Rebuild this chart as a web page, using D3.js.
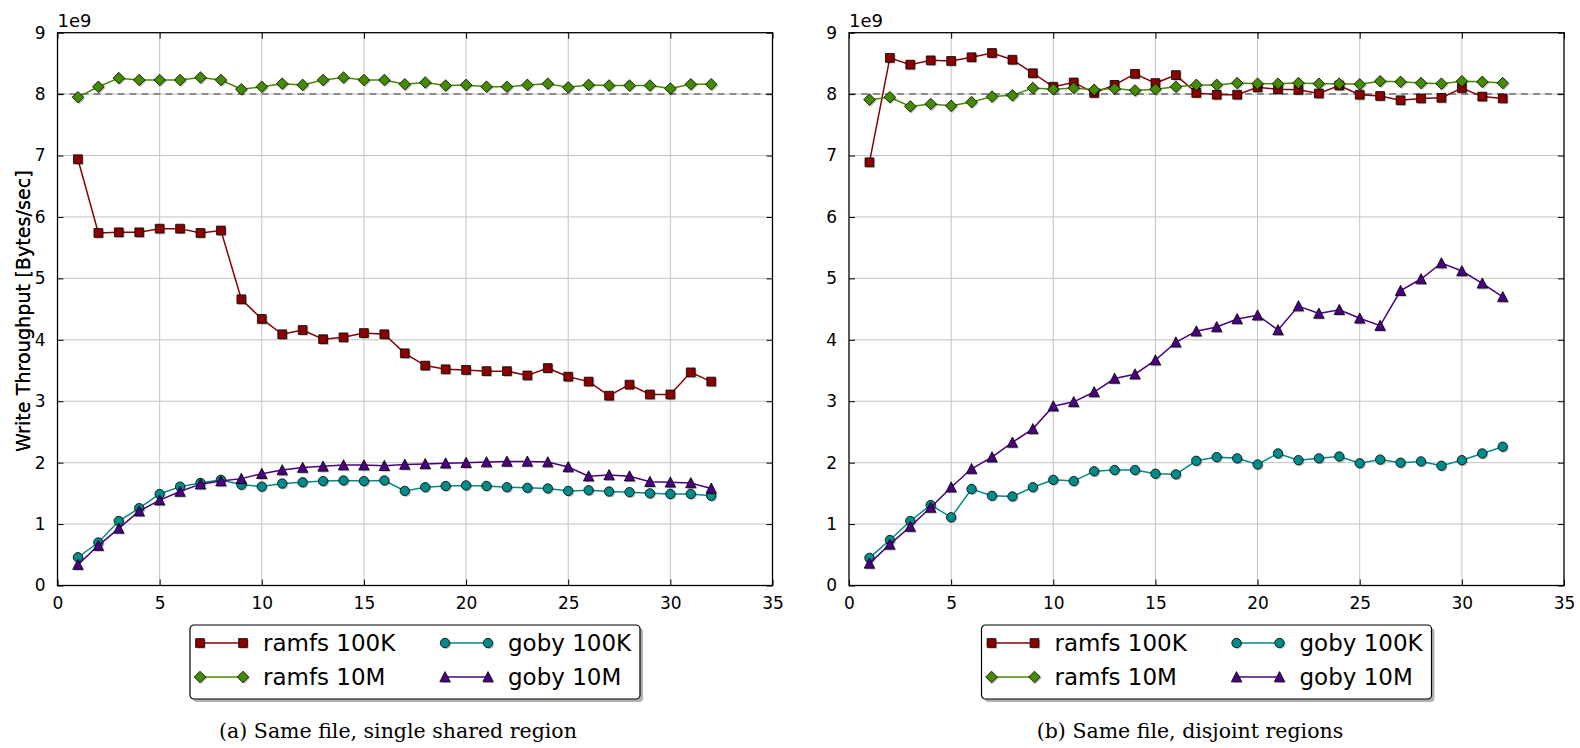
<!DOCTYPE html>
<html>
<head>
<meta charset="utf-8">
<script src="https://cdn.jsdelivr.net/npm/d3@7"></script>
<style>
  body { margin: 0; background: #fff; }
  text { font-family: "DejaVu Sans", sans-serif; fill: #000; }
  .caption { font-family: "DejaVu Serif", serif; }
</style>
</head>
<body>
<svg id="chart" width="1580" height="748"></svg>
<script>
// Thread counts on the x axis
const threads = [1, 2, 3, 4, 5, 6, 7, 8, 9, 10, 11, 12, 13, 14, 15, 16,
  17, 18, 19, 20, 21, 22, 23, 24, 25, 26, 27, 28, 29, 30, 31, 32];

const seriesNames = ["ramfs 100K", "ramfs 10M", "goby 100K", "goby 10M"];
const seriesColors = ["#8b0000", "#458b00", "#008b8b", "#4b0082"];
const seriesMarkers = ["square", "diamond", "circle", "triangle"];

// (a) same file, single shared region -- values in 1e9 bytes/sec
const sharedRamfs100K = [6.94, 5.74, 5.75, 5.75, 5.81, 5.81, 5.74, 5.78, 4.66, 4.34, 4.09, 4.16,
  4.01, 4.04, 4.11, 4.09, 3.78, 3.58, 3.52, 3.51, 3.49, 3.49, 3.42, 3.54, 3.40, 3.32, 3.09, 3.27,
  3.11, 3.11, 3.47, 3.32];
const sharedRamfs10M = [7.95, 8.12, 8.26, 8.23, 8.23, 8.23, 8.27, 8.23, 8.08, 8.12, 8.17, 8.15,
  8.23, 8.27, 8.23, 8.23, 8.16, 8.19, 8.14, 8.15, 8.12, 8.12, 8.15, 8.17, 8.11, 8.15, 8.14, 8.14,
  8.14, 8.09, 8.16, 8.16];
const sharedGoby100K = [0.46, 0.70, 1.05, 1.26, 1.49, 1.61, 1.67, 1.72, 1.64, 1.61, 1.66, 1.68,
  1.70, 1.71, 1.70, 1.71, 1.54, 1.60, 1.62, 1.63, 1.62, 1.60, 1.59, 1.58, 1.54, 1.55, 1.53, 1.52,
  1.50, 1.49, 1.49, 1.46];
const sharedGoby10M = [0.34, 0.65, 0.93, 1.21, 1.39, 1.53, 1.65, 1.70, 1.74, 1.82, 1.88, 1.92,
  1.94, 1.96, 1.96, 1.95, 1.97, 1.98, 1.99, 2.00, 2.01, 2.02, 2.02, 2.01, 1.93, 1.78, 1.80, 1.78,
  1.69, 1.68, 1.67, 1.58];

// (b) same file, disjoint regions
const disjointRamfs100K = [6.89, 8.59, 8.48, 8.55, 8.54, 8.60, 8.67, 8.56, 8.34, 8.12, 8.19, 8.02,
  8.15, 8.33, 8.18, 8.31, 8.02, 7.99, 7.99, 8.11, 8.08, 8.07, 8.01, 8.14, 7.99, 7.97, 7.90, 7.93,
  7.94, 8.10, 7.96, 7.93];
const disjointRamfs10M = [7.91, 7.95, 7.80, 7.84, 7.81, 7.87, 7.96, 7.98, 8.10, 8.08, 8.10, 8.07,
  8.09, 8.06, 8.08, 8.12, 8.15, 8.15, 8.18, 8.17, 8.17, 8.18, 8.17, 8.17, 8.16, 8.21, 8.20, 8.18,
  8.17, 8.21, 8.20, 8.18];
const disjointGoby100K = [0.45, 0.74, 1.05, 1.31, 1.11, 1.57, 1.46, 1.45, 1.60, 1.72, 1.70, 1.86,
  1.88, 1.88, 1.82, 1.81, 2.03, 2.09, 2.07, 1.97, 2.15, 2.04, 2.07, 2.10, 1.99, 2.05, 2.00, 2.02,
  1.95, 2.04, 2.15, 2.26];
const disjointGoby10M = [0.36, 0.67, 0.96, 1.27, 1.60, 1.90, 2.09, 2.33, 2.55, 2.92, 2.99, 3.15,
  3.37, 3.44, 3.67, 3.96, 4.14, 4.21, 4.34, 4.40, 4.16, 4.55, 4.43, 4.49, 4.35, 4.23, 4.80, 4.99,
  5.25, 5.12, 4.92, 4.70];

const xTicks = [0, 5, 10, 15, 20, 25, 30, 35];
const yTicks = [0, 1, 2, 3, 4, 5, 6, 7, 8, 9];
const referenceLevel = 8; // dashed line, 1e9 units

const panels = [
  { left: 57.5, caption: "(a) Same file, single shared region", captionX: 398,
    series: [sharedRamfs100K, sharedRamfs10M, sharedGoby100K, sharedGoby10M] },
  { left: 849, caption: "(b) Same file, disjoint regions", captionX: 1190,
    series: [disjointRamfs100K, disjointRamfs10M, disjointGoby100K, disjointGoby10M] },
];

const W = 715, H = 552.8, TOP = 32.7;
const svg = d3.select("#chart");

const x = d3.scaleLinear().domain([0, 35]).range([0, W]);
const y = d3.scaleLinear().domain([0, 9]).range([H, 0]);

function markerPath(kind) {
  switch (kind) {
    case "square": return "M-4.4,-4.4H4.4V4.4H-4.4Z";
    case "diamond": return "M0,-5.8L5.8,0L0,5.8L-5.8,0Z";
    case "circle": return d3.symbol(d3.symbolCircle, Math.PI * 4.7 * 4.7)();
    case "triangle": return "M0,-5.4L5.2,4.8L-5.2,4.8Z";
  }
}

function drawMarkers(g, pts, color, kind) {
  // soft shadow first, then the marker itself
  g.selectAll(null).data(pts).enter().append("path")
    .attr("d", markerPath(kind))
    .attr("transform", (d) => `translate(${d[0] + 1.3},${d[1] + 1.3})`)
    .attr("fill", "#000").attr("opacity", 0.25);
  g.selectAll(null).data(pts).enter().append("path")
    .attr("d", markerPath(kind))
    .attr("transform", (d) => `translate(${d[0]},${d[1]})`)
    .attr("fill", color).attr("stroke", "#000").attr("stroke-width", 0.8);
}

panels.forEach((p) => {
  const g = svg.append("g").attr("transform", `translate(${p.left},${TOP})`);

  // grid
  g.append("g").selectAll("line").data(xTicks.slice(1, -1)).enter().append("line")
    .attr("x1", (d) => x(d)).attr("x2", (d) => x(d)).attr("y1", 0).attr("y2", H)
    .attr("stroke", "#c4c4c4").attr("stroke-width", 1);
  g.append("g").selectAll("line").data(yTicks.slice(1, -1)).enter().append("line")
    .attr("y1", (d) => y(d)).attr("y2", (d) => y(d)).attr("x1", 0).attr("x2", W)
    .attr("stroke", "#c4c4c4").attr("stroke-width", 1);

  // reference line
  g.append("line")
    .attr("x1", 0).attr("x2", W).attr("y1", y(referenceLevel)).attr("y2", y(referenceLevel))
    .attr("stroke", "#8c8c8c").attr("stroke-width", 2).attr("stroke-dasharray", "7,5");

  // series
  p.series.forEach((vals, i) => {
    const pts = threads.map((t, k) => [x(t), y(vals[k])]);
    g.append("path")
      .attr("d", d3.line()(pts))
      .attr("fill", "none").attr("stroke", seriesColors[i]).attr("stroke-width", 1.5);
    drawMarkers(g.append("g"), pts, seriesColors[i], seriesMarkers[i]);
  });

  // axes with inward ticks
  const ax = (axis, tr) => g.append("g").attr("transform", tr).call(axis)
    .call((s) => s.select(".domain").remove());
  ax(d3.axisBottom(x).tickValues(xTicks).tickSizeInner(-6).tickPadding(11), `translate(0,${H})`);
  ax(d3.axisTop(x).tickValues(xTicks).tickSizeInner(-6).tickFormat(""), "translate(0,0)");
  ax(d3.axisLeft(y).tickValues(yTicks).tickSizeInner(-6).tickPadding(12), "translate(0,0)");
  ax(d3.axisRight(y).tickValues(yTicks).tickSizeInner(-6).tickFormat(""), `translate(${W},0)`);
  g.selectAll(".tick line").attr("stroke", "#000").attr("stroke-width", 1);
  g.selectAll(".tick text").attr("font-size", 17).attr("font-family", "DejaVu Sans").attr("fill", "#000");

  g.append("rect").attr("width", W).attr("height", H)
    .attr("fill", "none").attr("stroke", "#000").attr("stroke-width", 1.3);

  // exponent label and y title
  g.append("text").attr("x", 0).attr("y", -6).attr("font-size", 18).text("1e9");
  g.append("text")
    .attr("transform", `translate(${-p.left + 30},${H / 2 + 2}) rotate(-90)`)
    .attr("text-anchor", "middle").attr("font-size", 19.2)
    .text("Write Throughput [Bytes/sec]");

  // legend
  const lg = g.append("g").attr("transform", `translate(132.5,${625 - TOP})`);
  lg.append("rect").attr("x", 3).attr("y", 3).attr("width", 450).attr("height", 74)
    .attr("rx", 4).attr("fill", "#000").attr("opacity", 0.3);
  lg.append("rect").attr("width", 450).attr("height", 74).attr("rx", 4)
    .attr("fill", "#fff").attr("stroke", "#000").attr("stroke-width", 1.2);
  seriesNames.forEach((name, i) => {
    const cx = i < 2 ? 10 : 255;
    const cy = i % 2 === 0 ? 18 : 52;
    lg.append("line").attr("x1", cx).attr("x2", cx + 43).attr("y1", cy).attr("y2", cy)
      .attr("stroke", seriesColors[i]).attr("stroke-width", 1.5);
    drawMarkers(lg.append("g"), [[cx, cy], [cx + 43, cy]], seriesColors[i], seriesMarkers[i]);
    lg.append("text").attr("x", cx + 63).attr("y", cy).attr("dy", "0.36em")
      .attr("font-size", 23).text(name);
  });

  svg.append("text").attr("class", "caption")
    .attr("x", p.captionX).attr("y", 738).attr("text-anchor", "middle")
    .attr("font-size", 20.5).text(p.caption);
});
</script>
</body>
</html>
